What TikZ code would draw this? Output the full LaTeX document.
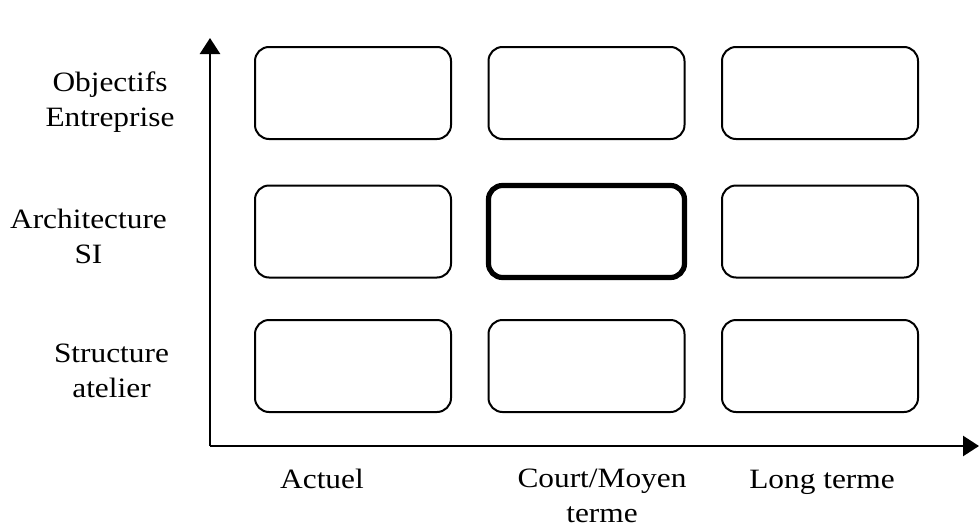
\documentclass[tikz,border=0pt]{standalone}
\usepackage{fontspec}
\setmainfont[FakeStretch=1.12]{Liberation Serif}
\usetikzlibrary{arrows.meta}
\begin{document}
\begin{tikzpicture}[x=0.5pt,y=-0.5pt,
  cell/.style={draw=black,line width=1pt,rounded corners=7pt,minimum width=98pt,minimum height=46pt,inner sep=0pt},
  thickcell/.style={cell,line width=2.6pt},
  lbl/.style={font=\fontsize{14}{17.5}\selectfont,align=center,inner sep=0pt},
  axis/.style={line width=1.3pt,-{Triangle[length=8pt,width=10pt]}}]
\useasboundingbox (0,0) rectangle (979,530);
% axes
\coordinate (O) at (210,446);
\coordinate (Ytip) at (210,38);
\coordinate (Xtip) at (979,446);
\draw[axis] (O) -- (Ytip);
\draw[axis] (O) -- (Xtip);
% boxes
\node[cell] (b11) at (353,93) {};
\node[cell] (b12) at (586.5,93) {};
\node[cell] (b13) at (820,93) {};
\node[cell] (b21) at (353,231.5) {};
\node[thickcell] (b22) at (586.5,231.5) {};
\node[cell] (b23) at (820,231.5) {};
\node[cell] (b31) at (353,366) {};
\node[cell] (b32) at (586.5,366) {};
\node[cell] (b33) at (820,366) {};
% row labels
\node[lbl] (l1) at (110,102) {Objectifs\\Entreprise};
\node[lbl] (l2) at (88.5,236) {Architecture\\SI};
\node[lbl] (l3) at (111.5,371) {Structure\\atelier};
% column labels
\node[lbl,anchor=base] (c1) at (322,488) {Actuel};
\node[lbl] (c2) at (602,496) {Court/Moyen\\terme};
\node[lbl,anchor=base] (c3) at (822,488) {Long terme};
\end{tikzpicture}
\end{document}
